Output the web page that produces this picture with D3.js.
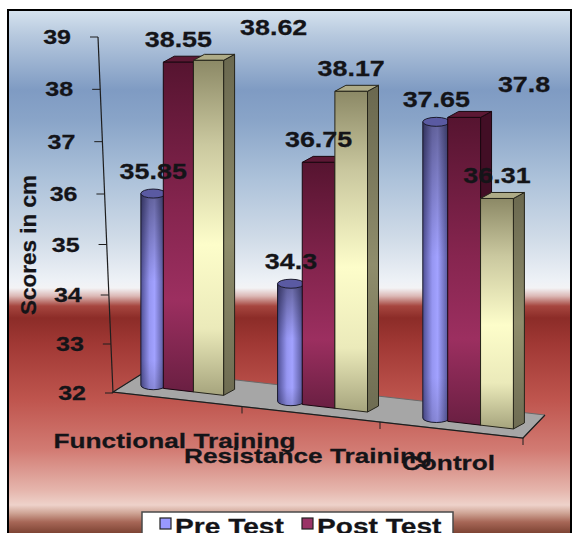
<!DOCTYPE html>
<html>
<head>
<meta charset="utf-8">
<script src="https://cdn.jsdelivr.net/npm/d3@7"></script>
<style>
  html, body { margin: 0; padding: 0; background: #ffffff; }
  svg { display: block; }
  text { font-family: "Liberation Sans", Arial, sans-serif; font-weight: bold; fill: #141418; stroke: #141418; stroke-width: 0.25; }
</style>
</head>
<body>
<script>
// ---- data ----
const categories = ["Functional Training", "Resistance Training", "Control"];
const preTest   = [35.85, 34.3, 37.65];
const postTest  = [38.55, 36.75, 37.8];
const thirdTest = [38.62, 38.17, 36.31];
const seriesKeys = ["pre", "post", "third"];
const legendLabels = ["Pre Test", "Post Test"];
const yTicks = [32, 33, 34, 35, 36, 37, 38, 39];
const yTitle = "Scores in cm";

const seriesValues = [preTest, postTest, thirdTest];

// ---- canvas ----
const W = 576, H = 533;
const svg = d3.select("body").append("svg").attr("width", W).attr("height", H);
const defs = svg.append("defs");

function addGradient(id, stops, vertical = true, userSpace = null) {
  const g = defs.append("linearGradient").attr("id", id);
  if (userSpace) {
    g.attr("gradientUnits", "userSpaceOnUse")
     .attr("x1", userSpace[0]).attr("y1", userSpace[1])
     .attr("x2", userSpace[2]).attr("y2", userSpace[3]);
  } else if (vertical) {
    g.attr("x1", 0).attr("y1", 0).attr("x2", 0).attr("y2", 1);
  } else {
    g.attr("x1", 0).attr("y1", 0).attr("x2", 1).attr("y2", 0);
  }
  stops.forEach(([o, c, op]) => {
    const s = g.append("stop").attr("offset", o).attr("stop-color", c);
    if (op !== undefined) s.attr("stop-opacity", op);
  });
}

// background: blue sky fading to white, then a red band fading to pink
const bgTop = 10, bgBot = 533;
const bgStops = [
  [10, "#d6e3ef"], [35, "#b7c9de"], [90, "#7f9bc3"], [120, "#89a4c8"],
  [180, "#adc2da"], [240, "#d1dce8"], [280, "#edf1f6"], [288, "#f3f3f5"],
  [296, "#dcb9b6"], [306, "#a6463f"], [318, "#8c2c28"], [345, "#a13935"],
  [400, "#bf554e"], [450, "#d27b73"], [490, "#e5b5ac"], [505, "#eed2ca"],
  [513, "#cfa596"], [522, "#a76757"], [533, "#7e4434"]
].map(([y, c]) => [(y - bgTop) / (bgBot - bgTop), c]);
addGradient("bg", bgStops, true, [0, bgTop, 0, bgBot]);

addGradient("purpleFront", [[0, "#561430"], [0.45, "#86254f"], [0.72, "#9c2f60"], [1, "#6a1f42"]]);
addGradient("tanFront", [[0, "#8c8966"], [0.25, "#cac89f"], [0.55, "#fdfdca"], [0.8, "#ebeaba"], [1, "#a6a47d"]]);
addGradient("tanSide", [[0, "#6a684f"], [0.55, "#8f8d6c"], [1, "#6e6c52"]]);
addGradient("cylBody", [[0, "#4f4f94"], [0.35, "#9696f2"], [0.55, "#a2a2ff"], [1, "#4c4c8c"]], false);
addGradient("cylShade", [[0, "#000", 0.38], [0.45, "#000", 0], [0.85, "#000", 0], [1, "#000", 0.15]]);

svg.append("rect")
  .attr("x", 8).attr("y", 10).attr("width", 563).attr("height", 540)
  .attr("fill", "url(#bg)").attr("stroke", "#000").attr("stroke-width", 2);

// ---- scales ----
// value -> units above the floor
const vScale = d3.scaleLinear().domain([32, 39]).range([0, 7]);
// value axis drawn at the front-left corner (slightly tilted by the perspective)
const axisY = d3.scaleLinear().domain([32, 34, 36, 39]).range([393, 295, 194, 37]);
const axisX = d3.scaleLinear().domain([32, 39]).range([113, 98]);
// floor front edge
const xFront = d3.scaleLinear().domain([0, 1, 2, 3]).range([113, 242, 380, 523]);
const frontY = d3.scaleLinear().domain([113, 523]).range([392, 438]);
// row of bars (mid depth of the floor)
const barX = d3.scaleLinear().domain([0, 1, 2, 3]).range([103, 237, 382, 528]);
const band = d3.scaleBand().domain(d3.range(seriesKeys.length)).range([0.225, 0.9]).paddingInner(0);
const baseY = d3.scaleLinear().domain([160, 500]).range([388, 427.4]);
const unitPx = d3.scaleLinear().domain([150, 500]).range([49.8, 53.06]);
const depth = [11, -6];
const catLabelY = d3.scaleLinear().domain([0, 1, 2]).range([448, 463, 470]);

// ---- floor ----
const fl = [xFront(0), frontY(xFront(0))];
const fr = [xFront(3), frontY(xFront(3))];
const floorPts = [fl, fr, [fr[0] + 22, fr[1] - 23], [fl[0] + 35, fl[1] - 22]];
svg.append("polygon")
  .attr("points", floorPts.map(p => p.join(",")).join(" "))
  .attr("fill", "#a6a6a6").attr("stroke", "#6a6a6a").attr("stroke-width", 1);
svg.append("path")
  .attr("d", d3.line()([floorPts[3], floorPts[0], floorPts[1], floorPts[2]]))
  .attr("fill", "none").attr("stroke", "#1e1e1e").attr("stroke-width", 1.2);
// category ticks on the front edge
[1, 2, 3].forEach(i => {
  const x = xFront(i), y = frontY(x);
  svg.append("line").attr("x1", x).attr("y1", y).attr("x2", x).attr("y2", y + 7)
    .attr("stroke", "#1e1e1e").attr("stroke-width", 1);
});

// ---- value axis ----
svg.append("line")
  .attr("x1", axisX(32)).attr("y1", axisY(32)).attr("x2", axisX(39)).attr("y2", axisY(39))
  .attr("stroke", "#1e1e1e").attr("stroke-width", 1.2);
const SX = 1.25;
yTicks.forEach(v => {
  const x = axisX(v), y = axisY(v);
  svg.append("line").attr("x1", x - 8).attr("y1", y).attr("x2", x).attr("y2", y)
    .attr("stroke", "#1e1e1e").attr("stroke-width", 1);
  svg.append("text")
    .attr("transform", `translate(${x - 27},${y + 7}) scale(${SX},1)`)
    .attr("text-anchor", "end").attr("font-size", 20)
    .text(v);
});
svg.append("text")
  .attr("transform", "translate(36,245) rotate(-90)")
  .attr("text-anchor", "middle").attr("font-size", 22.5)
  .text(yTitle);

// ---- bars ----
const barsG = svg.append("g");
const labelInfo = [];
categories.forEach((cat, ci) => {
  const segW = barX(ci + 1) - barX(ci);
  seriesKeys.forEach((key, si) => {
    const v = seriesValues[si][ci];
    const xL = barX(ci + band(si));
    const w = band.bandwidth() * segW;
    const xR = xL + w;
    const xc = (xL + xR) / 2;
    const h = vScale(v) * unitPx(xc);
    const g = barsG.append("g");
    if (key === "pre") {
      const cx = xc + 5, r = w * 0.41, ry = 4.5;
      const by = baseY(cx) - 2, ty = by - h;
      const body = `M${cx - r},${ty} L${cx - r},${by} A${r},${ry} 0 0 0 ${cx + r},${by} L${cx + r},${ty} Z`;
      g.append("path").attr("d", body)
        .attr("fill", "url(#cylBody)").attr("stroke", "#1c1c2e").attr("stroke-width", 1);
      g.append("path").attr("d", body).attr("fill", "url(#cylShade)");
      g.append("ellipse").attr("cx", cx).attr("cy", ty).attr("rx", r).attr("ry", ry)
        .attr("fill", "#5a5aa2").attr("stroke", "#1c1c2e").attr("stroke-width", 1);
      labelInfo.push({ ci, si, v, x: cx, y: ty - ry + 1 });
    } else {
      const ty = baseY(xc) - h;
      const bL = baseY(xL), bR = baseY(xR);
      const [dx, dy] = depth;
      const front = key === "post" ? "url(#purpleFront)" : "url(#tanFront)";
      const side = key === "post" ? "#420e25" : "url(#tanSide)";
      const top = key === "post" ? "#5c1834" : "#aeab87";
      const stroke = key === "post" ? "#1a0710" : "#25241a";
      g.append("polygon")
        .attr("points", [[xR, ty], [xR + dx, ty + dy], [xR + dx, bR + dy], [xR, bR]].map(p => p.join(",")).join(" "))
        .attr("fill", side).attr("stroke", stroke).attr("stroke-width", 1).attr("stroke-linejoin", "round");
      g.append("polygon")
        .attr("points", [[xL, ty], [xR, ty], [xR + dx, ty + dy], [xL + dx, ty + dy]].map(p => p.join(",")).join(" "))
        .attr("fill", top).attr("stroke", stroke).attr("stroke-width", 1).attr("stroke-linejoin", "round");
      g.append("polygon")
        .attr("points", [[xL, ty], [xR, ty], [xR, bR], [xL, bL]].map(p => p.join(",")).join(" "))
        .attr("fill", front).attr("stroke", stroke).attr("stroke-width", 1).attr("stroke-linejoin", "round");
      labelInfo.push({ ci, si, v, x: xc, y: ty - 4 });
    }
  });
});

// ---- data labels (nudged right when they would run into the previous label) ----
const labelsG = svg.append("g");
let prevBox = null;
labelInfo.forEach(d => {
  if (d.si === 0) prevBox = null;
  const t = labelsG.append("text").attr("font-size", 21.5).attr("text-anchor", "middle").text(d.v);
  const tw = t.node().getComputedTextLength() * SX;
  let cx = d.x, cy = d.y - 19;
  let box = { l: cx - tw / 2, r: cx + tw / 2, t: cy - 8, b: cy + 8 };
  if (prevBox && box.l < prevBox.r && box.r > prevBox.l && box.t < prevBox.b && box.b > prevBox.t) {
    cx = prevBox.r + 28 + tw / 2;
    cy -= 10;
    box = { l: cx - tw / 2, r: cx + tw / 2, t: cy - 8, b: cy + 8 };
  }
  t.attr("transform", `translate(${cx},${cy + 7.5}) scale(${SX},1)`);
  prevBox = box;
});

// ---- category labels ----
categories.forEach((cat, i) => {
  svg.append("text")
    .attr("transform", `translate(${xFront(i + 0.5) - 3},${catLabelY(i)}) scale(${SX},1)`)
    .attr("text-anchor", "middle").attr("font-size", 21)
    .text(cat);
});

// ---- legend ----
const lg = svg.append("g");
lg.append("rect").attr("x", 142).attr("y", 512).attr("width", 311).attr("height", 40)
  .attr("fill", "#ffffff").attr("stroke", "#4a4a4a").attr("stroke-width", 1.5);
const legendFill = ["#9999ff", "#993366"];
const legendX = d3.scaleOrdinal().domain(legendLabels).range([160, 302]);
legendLabels.forEach((name, i) => {
  const x = legendX(name);
  lg.append("rect").attr("x", x).attr("y", 518).attr("width", 11).attr("height", 11)
    .attr("fill", legendFill[i]).attr("stroke", "#222").attr("stroke-width", 1.2);
  lg.append("text")
    .attr("transform", `translate(${x + 15},${533.5}) scale(${SX},1)`)
    .attr("font-size", 22.5)
    .text(name);
});
</script>
</body>
</html>
